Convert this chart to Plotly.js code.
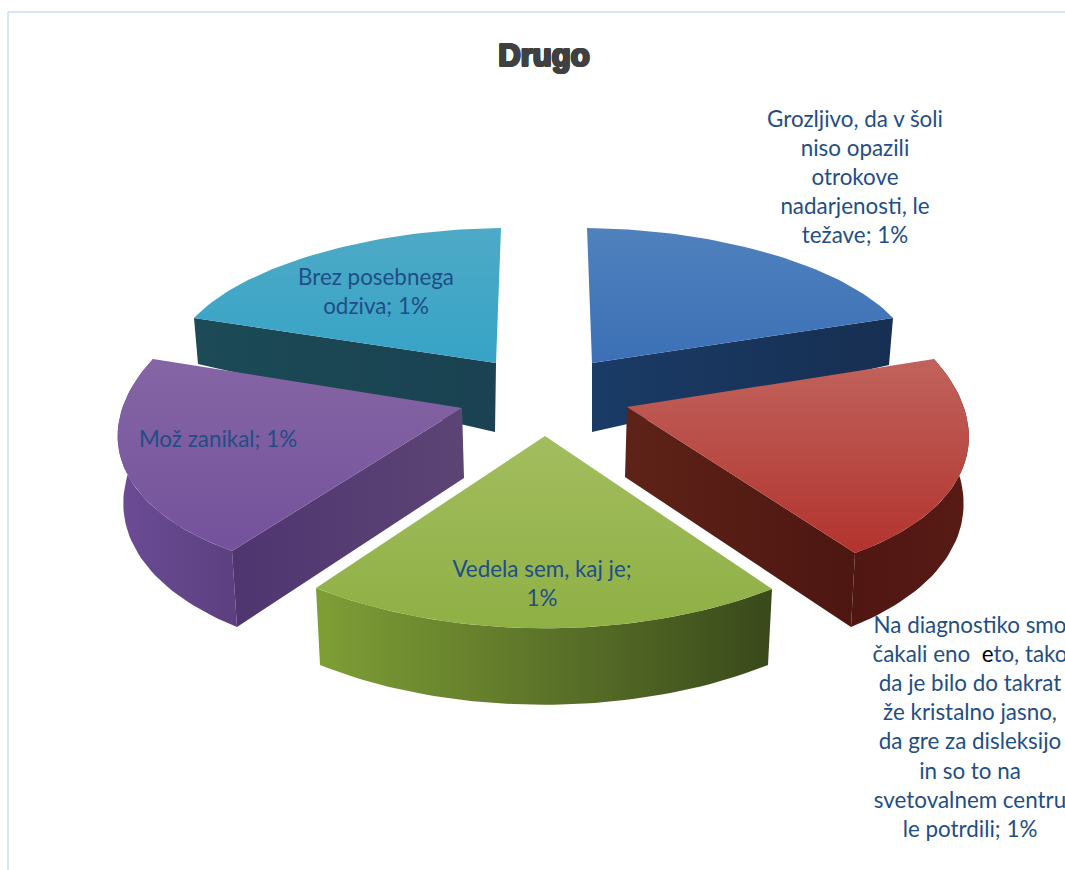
<!DOCTYPE html>
<html>
<head>
<meta charset="utf-8">
<script src="https://cdn.plot.ly/plotly-3.0.1.min.js"></script>
<style>html,body{margin:0;padding:0;background:#fff;overflow:hidden}#chart{width:1065px;height:870px}</style>
</head>
<body>
<div id="chart"></div>
<script>
// ---- data ----
const chartTitle = 'Drugo';
const categories = [
  'Grozljivo, da v šoli niso opazili otrokove nadarjenosti, le težave',
  'Na diagnostiko smo čakali eno  eto, tako da je bilo do takrat že kristalno jasno, da gre za disleksijo in so to na svetovalnem centru le potrdili',
  'Vedela sem, kaj je',
  'Mož zanikal',
  'Brez posebnega odziva'
];
const values = [1, 1, 1, 1, 1];
const labelLines = [
  ['Grozljivo, da v šoli', 'niso opazili', 'otrokove', 'nadarjenosti, le', 'težave; 1%'],
  ['Na diagnostiko smo', 'čakali eno\u00a0 <span style="color:#000000">e</span>to, tako', 'da je bilo do takrat', 'že kristalno jasno,', 'da gre za disleksijo', 'in so to na', 'svetovalnem centru', 'le potrdili; 1%'],
  ['Vedela sem, kaj je;', '1%'],
  ['Mož zanikal; 1%'],
  ['Brez posebnega', 'odziva; 1%']
];

// ---- projection of each exploded slice onto the page (3D look) ----
const geometry = [
  {apex:[592,363], v1:[-5,-135], v2:[301,-45], bulge:-0.02, dropApex:[0,69], drop1:[0,60], drop2:[-4,47]},
  {apex:[627,407], v1:[307,-48], v2:[228,146], bulge:0.015, dropApex:[-2,70], drop1:[-6,62], drop2:[-4,74]},
  {apex:[545,436], v1:[227,153], v2:[-229,152], bulge:0.02, dropApex:[0,70], drop1:[-4,76], drop2:[4,77]},
  {apex:[462,408], v1:[-230,143], v2:[-309,-49], bulge:0.015, dropApex:[2,70], drop1:[5,76], drop2:[6,62]},
  {apex:[496,363], v1:[-302,-45], v2:[5,-135], bulge:-0.02, dropApex:[-1,69], drop1:[4,46], drop2:[0,60]}
];
const styles = [
  {top:['#3c70b6','#4f81bd'], topType:'vertical', wall:['#1a3b66','#172f52'], outer:['#17365d','#17365d']},
  {top:['#b3332e','#c0635c'], topType:'vertical', wall:['#5e2318','#4d1611'], outer:['#501612','#581b16']},
  {top:['#8fb045','#a2bd5e'], topType:'vertical', wall:['#5e2318','#4d1611'], outer:['#7f9f36','#39491b']},
  {top:['#74529c','#8565a4'], topType:'vertical', wall:['#4f3570','#5c4475'], outer:['#6b4c96','#5c3f80']},
  {top:['#37a3c7','#4eaac6'], topType:'vertical', wall:['#1c4a56','#1a4252'], outer:['#1a4252','#1a4252']}
];
const labelPlace = [
  {x:855, y:121}, {x:970, y:627}, {x:542, y:571}, {x:218, y:441}, {x:376, y:279}
];
const lineStep = 29.2;
const labelColor = '#1f4e86';
const labelFont = 'Lato, "Open Sans", sans-serif';
const labelSize = 22.4;
const drawOrder = [0, 4, 1, 3, 2];
const STEPS = 48;

const total = values.reduce((a, b) => a + b, 0);
const sweep = values.map(v => 2 * Math.PI * v / total);

function arcPoint(i, t, depth) {
  const g = geometry[i], w = sweep[i];
  const a = Math.sin((1 - t) * w) / Math.sin(w), b = Math.sin(t * w) / Math.sin(w);
  const r = 1 + g.bulge * Math.sin(Math.PI * t);
  let x = g.apex[0] + r * (a * g.v1[0] + b * g.v2[0]);
  let y = g.apex[1] + r * (a * g.v1[1] + b * g.v2[1]);
  if (depth) {
    x += g.drop1[0] + (g.drop2[0] - g.drop1[0]) * t;
    y += g.drop1[1] + (g.drop2[1] - g.drop1[1]) * t;
  }
  return [x, y];
}
function poly(points, colors, type, name) {
  return {
    type: 'scatter', mode: 'lines', name: name, hoverinfo: 'skip',
    x: points.map(p => p[0]), y: points.map(p => p[1]),
    fill: 'toself', line: {width: 0, color: colors[0]},
    fillcolor: colors[0],
    fillgradient: {type: type, colorscale: [[0, colors[0]], [1, colors[1]]]}
  };
}

const traces = [];
drawOrder.forEach(i => {
  const g = geometry[i], s = styles[i], name = categories[i];
  const apexLow = [g.apex[0] + g.dropApex[0], g.apex[1] + g.dropApex[1]];
  const top = [g.apex], outer = [];
  for (let k = 0; k <= STEPS; k++) top.push(arcPoint(i, k / STEPS, false));
  for (let k = 0; k <= STEPS; k++) outer.push(arcPoint(i, k / STEPS, false));
  for (let k = STEPS; k >= 0; k--) outer.push(arcPoint(i, k / STEPS, true));
  // outer rim wall, then the radial wall(s) that face the viewer
  if (i === 1 || i === 2 || i === 3) traces.push(poly(outer, s.outer, 'horizontal', name + ' (rim)'));
  if (i === 0 || i === 3) traces.push(poly([g.apex, arcPoint(i, i === 0 ? 1 : 0, false), arcPoint(i, i === 0 ? 1 : 0, true), apexLow], s.wall, 'horizontal', name + ' (wall)'));
  if (i === 4 || i === 1) traces.push(poly([g.apex, arcPoint(i, i === 4 ? 0 : 1, false), arcPoint(i, i === 4 ? 0 : 1, true), apexLow], s.wall, 'horizontal', name + ' (wall)'));
  traces.push(poly(top, s.top, s.topType, name));
});

const tx = [], ty = [], tt = [];
labelLines.forEach((lines, i) => lines.forEach((line, k) => {
  tx.push(labelPlace[i].x); ty.push(labelPlace[i].y + k * lineStep); tt.push(line);
}));
traces.push({
  type: 'scatter', mode: 'text', x: tx, y: ty, text: tt, textposition: 'middle center',
  textfont: {family: labelFont, size: labelSize, color: labelColor},
  hoverinfo: 'skip', cliponaxis: false, name: 'labels'
});

const layout = {
  width: 1065, height: 870, autosize: false,
  margin: {l: 0, r: 0, t: 0, b: 0, pad: 0},
  paper_bgcolor: '#ffffff', plot_bgcolor: '#ffffff', showlegend: false,
  title: {
    text: chartTitle, x: 544 / 1065, xanchor: 'center', y: 1 - 55 / 870, yanchor: 'middle',
    font: {family: '"Liberation Sans", Arial, sans-serif', size: 31, color: '#404040', weight: 700,
           shadow: '1.2px 0 0 #404040, -1.2px 0 0 #404040, 0 1px 0 #404040, 0 -1px 0 #404040, 1px 1px 0 #404040, -1px -1px 0 #404040, 1px -1px 0 #404040, -1px 1px 0 #404040'}
  },
  xaxis: {visible: false, range: [0, 1065], fixedrange: true},
  yaxis: {visible: false, range: [870, 0], fixedrange: true},
  shapes: [
    {type: 'line', xref: 'x', yref: 'y', x0: 8, x1: 8, y0: 12, y1: 870, line: {color: '#d6e4f3', width: 2}, layer: 'below'},
    {type: 'line', xref: 'x', yref: 'y', x0: 8, x1: 1065, y0: 12, y1: 12, line: {color: '#d6e4f3', width: 2}, layer: 'below'}
  ]
};
Plotly.newPlot('chart', traces, layout, {staticPlot: true, displayModeBar: false, responsive: false});
</script>
</body>
</html>
